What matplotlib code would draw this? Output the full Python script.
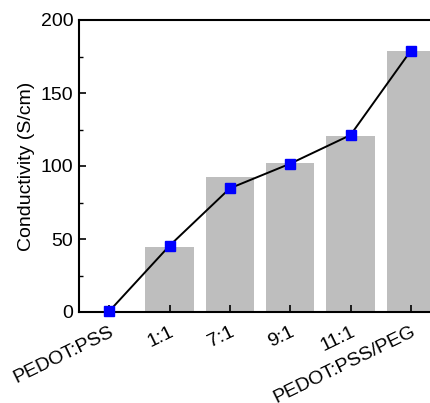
import matplotlib
matplotlib.use("Agg")
import matplotlib.pyplot as plt
from matplotlib.ticker import MultipleLocator

categories = ["PEDOT:PSS", "1:1", "7:1", "9:1", "11:1", "PEDOT:PSS/PEG"]
bar_values = [0.5, 44.5, 92.7, 101.8, 120.8, 179.0]
line_values = [0.5, 45.4, 84.7, 101.6, 121.2, 179.0]

plt.rcParams['font.family'] = ['Liberation Sans', 'DejaVu Sans']

fig = plt.figure(figsize=(4.30, 4.03), dpi=100)
ax = fig.add_axes([79/430, 1 - 312/403, 362/430, (312 - 20)/403])

x = list(range(len(categories)))
ax.bar(x, bar_values, width=0.8, color='#bebebe', zorder=1)
ax.plot(x, line_values, color='black', lw=1.4, marker='s', markersize=6.5,
        markerfacecolor='#0000ff', markeredgecolor='#0000ff', zorder=3, clip_on=False)

ax.set_xlim(-0.5, 5.5)
ax.set_ylim(0, 200)
ax.yaxis.set_major_locator(MultipleLocator(50))
ax.yaxis.set_minor_locator(MultipleLocator(25))
ax.set_xticks(x)
ax.set_xticklabels(categories, rotation=26, ha='right', rotation_mode='anchor', fontsize=14)
ax.tick_params(axis='both', direction='in', width=1.2, length=5, labelsize=14)
ax.tick_params(axis='x', labelsize=14, pad=8)
ax.tick_params(axis='y', pad=4)
ax.tick_params(axis='y', which='minor', direction='in', length=3, width=1.0)
ax.tick_params(axis='x', which='minor', bottom=False)
for s in ax.spines.values():
    s.set_linewidth(1.5)
ax.set_ylabel("Conductivity (S/cm)", fontsize=14, labelpad=4)

fig.savefig("out.png", dpi=100)
